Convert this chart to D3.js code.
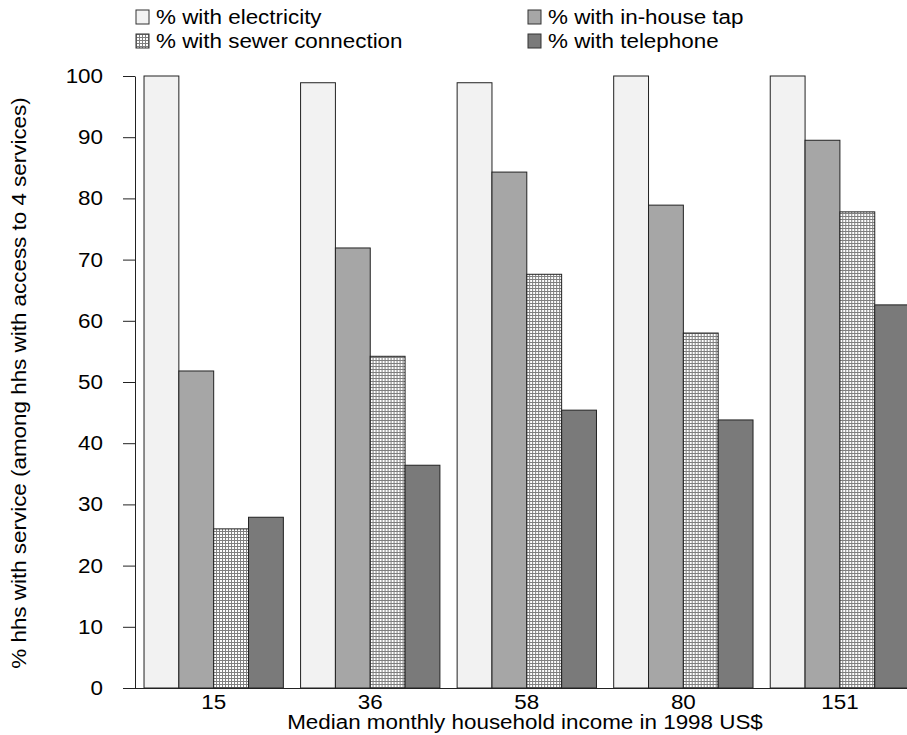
<!DOCTYPE html>
<html>
<head>
<meta charset="utf-8">
<script src="https://cdn.jsdelivr.net/npm/d3@7"></script>
<style>
  html, body { margin: 0; padding: 0; background: #fff; }
  svg { display: block; }
  text { font-family: "Liberation Sans", Arial, sans-serif; fill: #000; }
</style>
</head>
<body>
<script>
// ---- data ----
const categories = ["15", "36", "58", "80", "151"];
const seriesNames = ["% with electricity", "% with in-house tap", "% with sewer connection", "% with telephone"];
const electricity = [100, 98.9, 98.9, 100, 100];
const inHouseTap = [51.8, 71.9, 84.3, 78.9, 89.5];
const sewer = [26.0, 54.2, 67.6, 58.0, 77.8];
const telephone = [27.9, 36.4, 45.4, 43.8, 62.6];
const yTicks = [0, 10, 20, 30, 40, 50, 60, 70, 80, 90, 100];
const xTitle = "Median monthly household income in 1998 US$";
const yTitle = "% hhs with service (among hhs with access to 4 services)";

const seriesValues = [electricity, inHouseTap, sewer, telephone];
const fills = ["#f2f2f2", "#a6a6a6", "url(#hatch)", "#7a7a7a"];

const W = 907, H = 735;
const svg = d3.select("body").append("svg").attr("width", W).attr("height", H);

const defs = svg.append("defs");
const pat = defs.append("pattern").attr("id", "hatch").attr("patternUnits", "userSpaceOnUse")
  .attr("width", 3).attr("height", 3);
pat.append("rect").attr("width", 3).attr("height", 3).attr("fill", "#ffffff");
pat.append("rect").attr("x", 0).attr("y", 0).attr("width", 1).attr("height", 3).attr("fill", "#7f7f7f");
pat.append("rect").attr("x", 0).attr("y", 0).attr("width", 3).attr("height", 1).attr("fill", "#7f7f7f");

const y = d3.scaleLinear().domain([0, 100]).range([688, 76]);
const xg = d3.scaleBand().domain(categories).range([126.8, 926.8]).paddingInner(0.11).paddingOuter(0.11);
const xs = d3.scaleBand().domain(d3.range(4)).range([0, xg.bandwidth()]);

const FS = "20px";
const SX = 1.12; // horizontal stretch of text
function stretch(sel) {
  sel.each(function() {
    const len = this.getComputedTextLength();
    d3.select(this).attr("textLength", len * SX).attr("lengthAdjust", "spacingAndGlyphs");
  });
}

// bars
const groups = svg.append("g").selectAll("g").data(categories).join("g")
  .attr("transform", d => `translate(${xg(d)},0)`);
groups.selectAll("rect").data((d, i) => seriesValues.map((s, k) => ({k, v: s[i]}))).join("rect")
  .attr("x", d => xs(d.k))
  .attr("width", xs.bandwidth())
  .attr("y", d => y(d.v))
  .attr("height", d => y(0) - y(d.v))
  .attr("fill", d => fills[d.k])
  .attr("stroke", "#222")
  .attr("stroke-width", 1);

// y axis
const yAxis = svg.append("g").attr("transform", "translate(135,0)")
  .call(d3.axisLeft(y).tickValues(yTicks).tickSize(12).tickSizeOuter(0).tickPadding(20));
yAxis.select(".domain").attr("stroke", "#222");
yAxis.selectAll(".tick line").attr("stroke", "#222");
yAxis.selectAll("text").style("font-size", FS).attr("fill", "#000").call(stretch);

// x axis
const xAxis = svg.append("g").attr("transform", "translate(0,688)")
  .call(d3.axisBottom(xg).tickSize(0).tickPadding(7));
xAxis.select(".domain").remove();
xAxis.selectAll("text").style("font-size", FS).attr("fill", "#000").call(stretch);
svg.append("line").attr("x1", 123).attr("x2", W).attr("y1", 688.5).attr("y2", 688.5)
  .attr("stroke", "#222").attr("stroke-width", 1);

// titles
svg.append("text").attr("x", 525).attr("y", 729).attr("text-anchor", "middle")
  .style("font-size", FS).text(xTitle).call(stretch);
svg.append("text").attr("transform", "translate(26,383) rotate(-90)").attr("text-anchor", "middle")
  .style("font-size", FS).text(yTitle).call(stretch);

// legend
const legPos = [[136, 10], [528, 10], [136, 34], [528, 34]];
const leg = svg.append("g").selectAll("g").data(seriesNames).join("g")
  .attr("transform", (d, i) => `translate(${legPos[i][0]},${legPos[i][1]})`);
leg.append("rect").attr("width", 13).attr("height", 14)
  .attr("fill", (d, i) => fills[i]).attr("stroke", "#333").attr("stroke-width", 1);
leg.append("text").attr("x", 20).attr("y", 14).style("font-size", FS).text(d => d).call(stretch);
</script>
</body>
</html>
